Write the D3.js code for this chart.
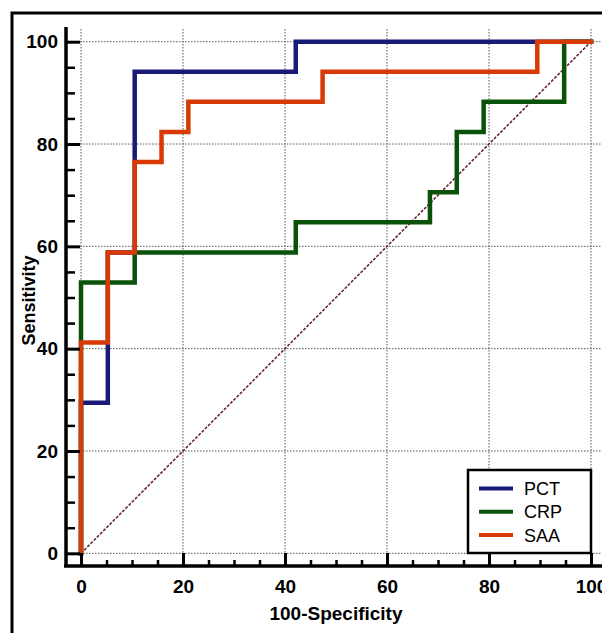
<!DOCTYPE html>
<html>
<head>
<meta charset="utf-8">
<script src="https://cdn.jsdelivr.net/npm/d3@7"></script>
<style>
  body { margin: 0; background: #fff; }
  svg { display: block; font-family: "Liberation Sans", Arial, sans-serif; }
</style>
</head>
<body>
<svg width="602" height="633"></svg>
<script>
// ROC 데이터 (100-Specificity, Sensitivity) 꼭짓점
const seriesNames = ["PCT", "CRP", "SAA"];
const seriesColors = ["#1a1a78", "#0a520a", "#d83a06"];

const pctX = [0, 0, 5.26, 5.26, 10.53, 10.53, 42.11, 42.11, 100];
const pctY = [0, 29.41, 29.41, 58.82, 58.82, 94.12, 94.12, 100, 100];

const crpX = [0, 0, 10.53, 10.53, 42.11, 42.11, 68.42, 68.42, 73.68, 73.68, 78.95, 78.95, 94.74, 94.74, 100];
const crpY = [0, 52.94, 52.94, 58.82, 58.82, 64.71, 64.71, 70.59, 70.59, 82.35, 82.35, 88.24, 88.24, 100, 100];

const saaX = [0, 0, 5.26, 5.26, 10.53, 10.53, 15.79, 15.79, 21.05, 21.05, 47.37, 47.37, 89.47, 89.47, 100];
const saaY = [0, 41.18, 41.18, 58.82, 58.82, 76.47, 76.47, 82.35, 82.35, 88.24, 88.24, 94.12, 94.12, 100, 100];

const majorTicks = [0, 20, 40, 60, 80, 100];
const minorTicks = d3.range(0, 101, 5).filter(d => d % 20 !== 0);

const svg = d3.select("svg");

const x = d3.scaleLinear().domain([0, 100]).range([81, 591]);
const y = d3.scaleLinear().domain([0, 100]).range([553.3, 41.7]);

// 바깥 테두리
svg.append("rect")
  .attr("x", 12).attr("y", 13)
  .attr("width", 620).attr("height", 650)
  .attr("fill", "white")
  .attr("stroke", "black")
  .attr("stroke-width", 3);

// 점선 격자
const grid = svg.append("g")
  .attr("stroke", "#555")
  .attr("stroke-width", 1)
  .attr("stroke-dasharray", "1.5,1.5");

grid.selectAll(".v").data(majorTicks).join("line")
  .attr("x1", d => x(d)).attr("x2", d => x(d))
  .attr("y1", 29).attr("y2", y(0));

grid.selectAll(".h").data(majorTicks).join("line")
  .attr("x1", 80).attr("x2", 602)
  .attr("y1", d => y(d)).attr("y2", d => y(d));

// 대각선 기준선
svg.append("line")
  .attr("x1", x(0)).attr("y1", y(0))
  .attr("x2", x(100)).attr("y2", y(100))
  .attr("stroke", "#6a2438")
  .attr("stroke-width", 1.6)
  .attr("stroke-dasharray", "3,1.5");

// ROC 곡선
const line = d3.line().x(d => x(d[0])).y(d => y(d[1]));
const series = [d3.zip(pctX, pctY), d3.zip(crpX, crpY), d3.zip(saaX, saaY)];

series.forEach((pts, i) => {
  svg.append("path")
    .datum(pts)
    .attr("d", line)
    .attr("fill", "none")
    .attr("stroke", seriesColors[i])
    .attr("stroke-width", 4.5)
    .attr("stroke-linejoin", "miter")
    .attr("stroke-linecap", "square");
});

// Y 축
const yAxisX = 66;
const yAxis = svg.append("g")
  .attr("transform", `translate(${yAxisX},0)`)
  .call(d3.axisLeft(y).tickValues(majorTicks).tickSize(-14).tickPadding(8));
yAxis.select(".domain").remove();
yAxis.selectAll(".tick line").attr("stroke", "black").attr("stroke-width", 3);
yAxis.selectAll(".tick text")
  .attr("font-size", 19).attr("font-weight", "bold")
  .attr("font-family", "Liberation Sans, Arial, sans-serif")
  .attr("fill", "black");

const yMinor = svg.append("g")
  .attr("transform", `translate(${yAxisX},0)`)
  .call(d3.axisLeft(y).tickValues(minorTicks).tickSize(-9).tickFormat(""));
yMinor.select(".domain").remove();
yMinor.selectAll(".tick line").attr("stroke", "black").attr("stroke-width", 2.5);

svg.append("line")
  .attr("x1", yAxisX).attr("x2", yAxisX)
  .attr("y1", 27).attr("y2", 567)
  .attr("stroke", "black").attr("stroke-width", 3.5);

// X 축
const xAxisY = 566;
const xAxis = svg.append("g")
  .attr("transform", `translate(0,${xAxisY})`)
  .call(d3.axisBottom(x).tickValues(majorTicks).tickSize(-13).tickPadding(14));
xAxis.select(".domain").remove();
xAxis.selectAll(".tick line").attr("stroke", "black").attr("stroke-width", 3);
xAxis.selectAll(".tick text")
  .attr("font-size", 19).attr("font-weight", "bold")
  .attr("font-family", "Liberation Sans, Arial, sans-serif")
  .attr("fill", "black");

const xMinor = svg.append("g")
  .attr("transform", `translate(0,${xAxisY})`)
  .call(d3.axisBottom(x).tickValues(minorTicks).tickSize(-6).tickFormat(""));
xMinor.select(".domain").remove();
xMinor.selectAll(".tick line").attr("stroke", "black").attr("stroke-width", 2.5);

svg.append("line")
  .attr("x1", 64).attr("x2", 602)
  .attr("y1", xAxisY).attr("y2", xAxisY)
  .attr("stroke", "black").attr("stroke-width", 3.5);

// 축 제목
svg.append("text")
  .attr("x", (x(0) + x(100)) / 2)
  .attr("y", 620)
  .attr("text-anchor", "middle")
  .attr("font-size", 19)
  .attr("font-weight", "bold")
  .text("100-Specificity");

svg.append("text")
  .attr("transform", `translate(35,${(y(0) + y(100)) / 2 + 3}) rotate(-90)`)
  .attr("text-anchor", "middle")
  .attr("font-size", 18)
  .attr("font-weight", "bold")
  .text("Sensitivity");

// 범례
const legend = svg.append("g");
legend.append("rect")
  .attr("x", 468).attr("y", 470)
  .attr("width", 123).attr("height", 83)
  .attr("fill", "white")
  .attr("stroke", "black")
  .attr("stroke-width", 2.5);

seriesNames.forEach((name, i) => {
  const ly = 488.5 + i * 23.3;
  legend.append("line")
    .attr("x1", 479).attr("x2", 513)
    .attr("y1", ly).attr("y2", ly)
    .attr("stroke", seriesColors[i])
    .attr("stroke-width", 4);
  legend.append("text")
    .attr("x", 524).attr("y", ly)
    .attr("dy", "0.36em")
    .attr("font-size", 18)
    .text(name);
});
</script>
</body>
</html>
